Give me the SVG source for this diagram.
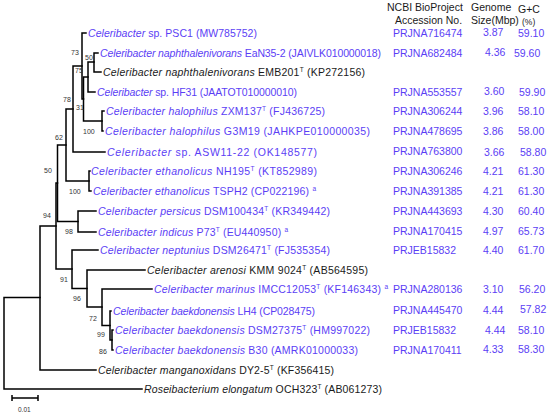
<svg xmlns="http://www.w3.org/2000/svg" width="550" height="418" viewBox="0 0 550 418">
<style>
text{font-family:"Liberation Sans",Arial,sans-serif;font-size:10.5px}
.b{fill:#5b3ef5}
.k{fill:#1a1a1a}
.i{font-style:italic}
.s{font-size:6.5px}
.bs{font-size:7px;fill:#333}
.h{fill:#1a1a1a}
.tree path{stroke:#000;stroke-width:1.5;fill:none;stroke-linecap:square}
</style>
<rect width="550" height="418" fill="#fff"/>
<g id="header" class="h">
<text x="387" y="11">NCBI BioProject</text>
<text x="395" y="24">Accession No.</text>
<text x="471" y="11">Genome</text>
<text x="471" y="24">Size(Mbp)</text>
<text x="518" y="13">G+C</text>
<text x="522" y="25" style="font-size:8.5px">(%)</text>
</g>
<g class="tree" id="connectors">
<path d="M4,297.5V389M4,297.5H40M4,389H142"/>
<path d="M40,226V370M40,370H96M40,226H56"/>
<path d="M56,183V269M56,269H72M56,183H57.5"/>
<path d="M57.5,145V221.5M57.5,145H66M57.5,221.5H78"/>
<path d="M78,211V232M78,211H96M78,232H96"/>
<path d="M66,109V181M66,109H73M66,181H89"/>
<path d="M89,171V191M89,171H90M89,191H91"/>
<path d="M73,66V152M73,66H82M73,152H105"/>
<path d="M82,33V99M82,33H86M82,99H83.5"/>
<path d="M83.5,77V121M83.5,77H88M83.5,121H102"/>
<path d="M88,62V92M88,62H94M88,92H95"/>
<path d="M94,53V72M94,53H98M94,72H101"/>
<path d="M102,111V131M102,111H104M102,131H103"/>
<path d="M72,250V288.5M72,250H98M72,288.5H87"/>
<path d="M87,270V307M87,270H145M87,307H102"/>
<path d="M102,289V325.5M102,289H152M102,325.5H110"/>
<path d="M110,311V340M110,311H111M110,340H112"/>
<path d="M112,330V350M112,330H113M112,350H113"/>
</g>
<g id="bootstrap">
<text class="bs" x="71" y="55">73</text>
<text class="bs" x="85" y="60">50</text>
<text class="bs" x="75" y="73">75</text>
<text class="bs" x="63" y="102">78</text>
<text class="bs" x="76" y="110">31</text>
<text class="bs" x="83" y="134">100</text>
<text class="bs" x="55" y="140">62</text>
<text class="bs" x="44" y="173">50</text>
<text class="bs" x="69" y="194">100</text>
<text class="bs" x="43" y="218">94</text>
<text class="bs" x="65" y="234">98</text>
<text class="bs" x="60" y="282">91</text>
<text class="bs" x="73" y="301">96</text>
<text class="bs" x="89" y="321">72</text>
<text class="bs" x="97" y="337">99</text>
<text class="bs" x="99" y="354">86</text>
</g>
<g id="scale">
<path d="M12,398H38M12,395V401M38,395V401" stroke="#000" stroke-width="1.5" fill="none"/>
<text x="18" y="412" style="font-size:6.5px" fill="#333">0.01</text>
</g>
<g id="n1" class="b"><text x="88" y="37" textLength="169" lengthAdjust="spacing"><tspan class="i">Celeribacter</tspan> sp. PSC1 (MW785752)</text><text x="393" y="37">PRJNA716474</text><text x="483" y="36">3.87</text><text x="518" y="37">59.10</text></g>
<g id="n2" class="b"><text x="100" y="57" textLength="281" lengthAdjust="spacing"><tspan class="i">Celeribacter naphthalenivorans</tspan> EaN35-2 (JAIVLK010000018)</text><text x="393" y="57">PRJNA682484</text><text x="485" y="56">4.36</text><text x="514" y="57">59.60</text></g>
<g id="n3" class="k"><text x="103" y="76" textLength="262" lengthAdjust="spacing"><tspan class="i">Celeribacter naphthalenivorans</tspan> EMB201<tspan class="s" dy="-4">T</tspan><tspan dy="4"> (KP272156)</tspan></text></g>
<g id="n4" class="b"><text x="97" y="96" textLength="200" lengthAdjust="spacing"><tspan class="i">Celeribacter</tspan> sp. HF31 (JAATOT010000010)</text><text x="393" y="96">PRJNA553557</text><text x="484" y="95">3.60</text><text x="519" y="96">59.90</text></g>
<g id="n5" class="b"><text x="106" y="115" textLength="219" lengthAdjust="spacing"><tspan class="i">Celeribacter halophilus</tspan> ZXM137<tspan class="s" dy="-4">T</tspan><tspan dy="4"> (FJ436725)</tspan></text><text x="393" y="115">PRJNA306244</text><text x="483" y="115">3.96</text><text x="518" y="115">58.10</text></g>
<g id="n6" class="b"><text x="105" y="135" textLength="265" lengthAdjust="spacing"><tspan class="i">Celeribacter halophilus</tspan> G3M19 (JAHKPE010000035)</text><text x="393" y="135">PRJNA478695</text><text x="483" y="135">3.86</text><text x="518" y="135">58.00</text></g>
<g id="n7" class="b"><text x="107" y="156" textLength="210" lengthAdjust="spacing"><tspan class="i">Celeribacter</tspan> sp. ASW11-22 (OK148577)</text><text x="393" y="155">PRJNA763800</text><text x="484" y="156">3.66</text><text x="520" y="156">58.80</text></g>
<g id="n8" class="b"><text x="91" y="175" textLength="226" lengthAdjust="spacing"><tspan class="i">Celeribacter ethanolicus</tspan> NH195<tspan class="s" dy="-4">T</tspan><tspan dy="4"> (KT852989)</tspan></text><text x="393" y="175">PRJNA306246</text><text x="483" y="175">4.21</text><text x="518" y="175">61.30</text></g>
<g id="n9" class="b"><text x="93" y="195" textLength="223" lengthAdjust="spacing"><tspan class="i">Celeribacter ethanolicus</tspan> TSPH2 (CP022196) <tspan class="s" dy="-4">a</tspan></text><text x="393" y="195">PRJNA391385</text><text x="483" y="195">4.21</text><text x="518" y="195">61.30</text></g>
<g id="n10" class="b"><text x="98" y="215" textLength="232" lengthAdjust="spacing"><tspan class="i">Celeribacter persicus</tspan> DSM100434<tspan class="s" dy="-4">T</tspan><tspan dy="4"> (KR349442)</tspan></text><text x="393" y="215">PRJNA443693</text><text x="483" y="215">4.30</text><text x="518" y="215">60.40</text></g>
<g id="n11" class="b"><text x="98" y="236" textLength="190" lengthAdjust="spacing"><tspan class="i">Celeribacter indicus</tspan> P73<tspan class="s" dy="-4">T</tspan><tspan dy="4"> (EU440950) </tspan><tspan class="s" dy="-4">a</tspan></text><text x="393" y="235">PRJNA170415</text><text x="483" y="235">4.97</text><text x="518" y="235">65.73</text></g>
<g id="n12" class="b"><text x="100" y="254" textLength="230" lengthAdjust="spacing"><tspan class="i">Celeribacter neptunius</tspan> DSM26471<tspan class="s" dy="-4">T</tspan><tspan dy="4"> (FJ535354)</tspan></text><text x="393" y="254">PRJEB15832</text><text x="483" y="254">4.40</text><text x="518" y="254">61.70</text></g>
<g id="n13" class="k"><text x="147" y="274" textLength="221" lengthAdjust="spacing"><tspan class="i">Celeribacter arenosi</tspan> KMM 9024<tspan class="s" dy="-4">T</tspan><tspan dy="4"> (AB564595)</tspan></text></g>
<g id="n14" class="b"><text x="154" y="293" textLength="234" lengthAdjust="spacing"><tspan class="i">Celeribacter marinus</tspan> IMCC12053<tspan class="s" dy="-4">T</tspan><tspan dy="4"> (KF146343) </tspan><tspan class="s" dy="-4">a</tspan></text><text x="393" y="293">PRJNA280136</text><text x="483" y="293">3.10</text><text x="519" y="293">56.20</text></g>
<g id="n15" class="b"><text x="113" y="315" textLength="202" lengthAdjust="spacing"><tspan class="i">Celeribacter baekdonensis</tspan> LH4 (CP028475)</text><text x="393" y="314">PRJNA445470</text><text x="483" y="314">4.44</text><text x="520" y="313">57.82</text></g>
<g id="n16" class="b"><text x="115" y="334" textLength="255" lengthAdjust="spacing"><tspan class="i">Celeribacter baekdonensis</tspan> DSM27375<tspan class="s" dy="-4">T</tspan><tspan dy="4"> (HM997022)</tspan></text><text x="393" y="334">PRJEB15832</text><text x="485" y="334">4.44</text><text x="518" y="334">58.10</text></g>
<g id="n17" class="b"><text x="115" y="354" textLength="243" lengthAdjust="spacing"><tspan class="i">Celeribacter baekdonensis</tspan> B30 (AMRK01000033)</text><text x="393" y="354">PRJNA170411</text><text x="483" y="353">4.33</text><text x="518" y="353">58.30</text></g>
<g id="n18" class="k"><text x="98" y="374" textLength="236" lengthAdjust="spacing"><tspan class="i">Celeribacter manganoxidans</tspan> DY2-5<tspan class="s" dy="-4">T</tspan><tspan dy="4"> (KF356415)</tspan></text></g>
<g id="n19" class="k"><text x="144" y="393" textLength="238" lengthAdjust="spacing"><tspan class="i">Roseibacterium elongatum</tspan> OCH323<tspan class="s" dy="-4">T</tspan><tspan dy="4"> (AB061273)</tspan></text></g>
</svg>
